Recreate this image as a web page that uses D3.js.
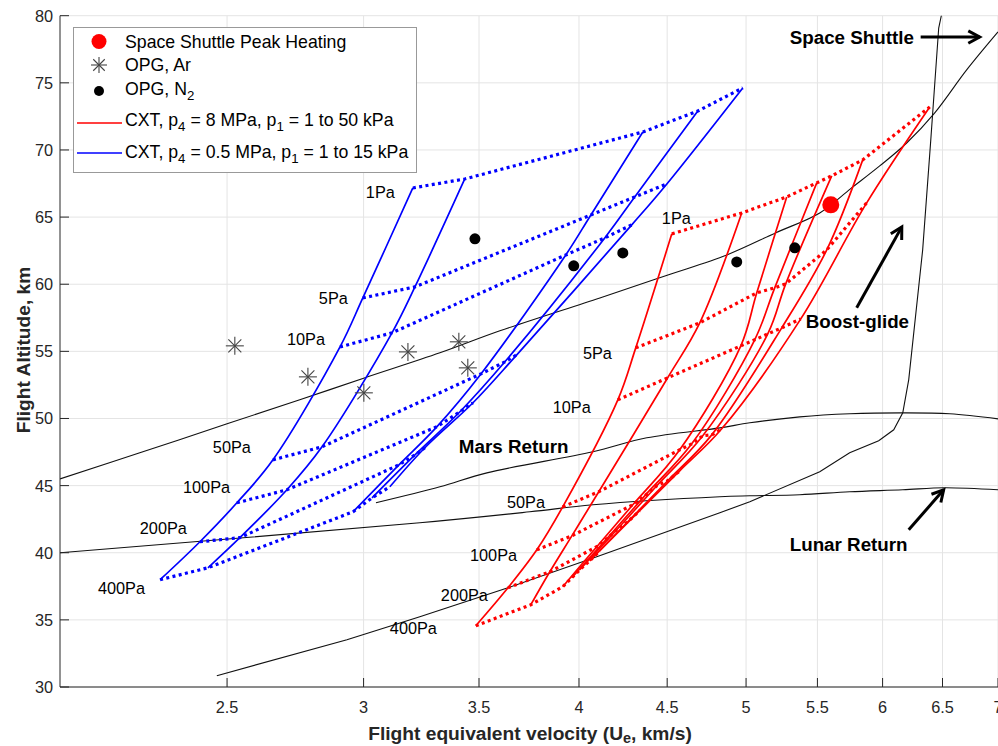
<!DOCTYPE html>
<html>
<head>
<meta charset="utf-8">
<script src="https://cdn.jsdelivr.net/npm/d3@7"></script>
<style>
body { margin: 0; background: #fff; }
text { font-family: "Liberation Sans", Arial, Helvetica, sans-serif; fill: #262626; }
</style>
</head>
<body>
<script>
// ---- data (velocity km/s, altitude km) ----
var vTicks = [2.5, 3, 3.5, 4, 4.5, 5, 5.5, 6, 6.5, 7];
var altTicks = [30, 35, 40, 45, 50, 55, 60, 65, 70, 75, 80];
var pressures = ["1Pa", "5Pa", "10Pa", "50Pa", "100Pa", "200Pa", "400Pa"];

// CXT p4 = 0.5 MPa, one row per p1, points at 1..400 Pa
var blueCurves = [
  [[3.204,67.17],[2.997,58.98],[2.907,55.33],[2.658,46.92],[2.533,43.72],[2.411,40.82],[2.286,37.99]],
  [[3.434,67.84],[3.213,59.80],[3.116,56.38],[2.838,47.89],[2.708,44.69],[2.543,41.12],[2.437,38.88]],
  [[4.356,71.34],[4.064,65.16],[3.930,62.18],[3.509,53.32],[3.308,49.38],[3.145,46.55],[2.958,43.05]],
  [[4.688,72.90],[4.309,66.50],[4.140,63.45],[3.623,54.22],[3.412,50.50],[3.213,47.29],[3.034,44.09]],
  [[4.978,74.62],[4.498,67.47],[4.292,64.42],[3.681,54.74],[3.472,51.17],[3.256,47.82],[3.107,44.91]]
];
// CXT p4 = 8 MPa
var redCurves = [
  [[4.528,63.75],[4.315,55.26],[4.213,51.39],[3.914,43.42],[3.781,40.22],[3.638,37.39],[3.485,34.56]],
  [[4.971,65.31],[4.700,57.12],[4.503,53.03],[4.107,44.54],[3.962,41.26],[3.847,38.58],[3.751,36.13]],
  [[5.279,66.50],[5.072,59.36],[4.965,55.41],[4.576,47.67],[4.298,43.57],[4.096,40.45],[3.914,37.47]],
  [[5.495,67.55],[5.195,59.73],[5.058,55.86],[4.650,48.11],[4.367,44.24],[4.151,41.04],[3.962,38.14]],
  [[5.606,68.07],[5.272,60.03],[5.147,56.30],[4.719,48.71],[4.438,44.99],[4.207,41.71],[4.004,38.73]],
  [[5.843,69.26],[5.569,62.56],[5.244,56.75],[4.776,48.78],[4.503,45.36],[4.269,42.31],[4.058,39.40]],
  [[6.390,73.20],[5.874,66.06],[5.379,57.42],[4.840,49.23],[4.576,46.10],[4.338,43.13],[4.113,40.15]]
];
var blueLabelAt = [[3.009,66.87],[2.826,58.98],[2.708,55.93],[2.453,47.89],[2.357,44.91],[2.225,41.86],[2.104,37.39]];
var redLabelAt = [[4.468,64.94],[4.021,54.89],[3.862,50.87],[3.633,43.80],[3.458,39.85],[3.326,36.87],[3.107,34.42]];

var shuttlePeak = [[5.599,65.91]];
var opgAr = [[2.526,55.41],[2.785,53.10],[3.001,51.91],[3.183,54.96],[3.407,55.71],[3.448,53.77]];
var opgN2 = [[3.481,63.38],[3.972,61.37],[4.241,62.33],[4.938,61.66],[5.336,62.71]];

var shuttleTraj = [[2.466,30.84],[2.934,33.52],[3.234,35.23],[3.638,37.39],[4.096,39.70],[4.828,42.98],[5.025,43.80],
  [5.517,46.03],[5.742,47.44],[5.969,48.34],[6.090,49.16],[6.164,50.42],[6.213,52.88],[6.330,62.56],[6.399,70.75],[6.467,79.08],[6.502,80.5]];
var boostGlide = [[2.0,45.5],[2.225,47.44],[2.5,49.6],[2.755,51.39],[3.0,53.0],[3.322,54.89],[3.599,56.53],[4.113,58.98],
  [4.5,60.67],[4.873,62.18],[5.2,63.82],[5.517,65.31],[5.75,67.12],[5.977,68.81],[6.196,70.52],[6.433,72.76],[6.713,75.96],[7.0,78.79]];
var marsReturn = [[3.050,43.72],[3.322,44.91],[3.537,45.95],[4.075,47.52],[4.379,48.56],[4.828,49.30],[5.025,49.68],
  [5.372,50.12],[5.742,50.35],[6.164,50.42],[6.563,50.35],[7.0,49.97]];
var lunarReturn = [[2.0,40.00],[3.234,42.23],[3.746,43.05],[4.075,43.57],[4.828,44.17],[5.025,44.24],[5.372,44.32],
  [5.742,44.54],[6.164,44.69],[6.519,44.84],[7.0,44.69]];

var notes = [
  {text: "Space Shuttle", at: [5.300,78.41], from: [6.313,78.41], to: [6.831,78.41]},
  {text: "Boost-glide", at: [5.415,57.20], from: [5.796,58.24], to: [6.156,64.27]},
  {text: "Lunar Return", at: [5.300,40.59], from: [6.213,41.71], to: [6.510,44.69]},
  {text: "Mars Return", at: [3.407,47.89]}
];

// ---- chart ----
var w = 998, h = 746;
var svg = d3.select("body").append("svg")
    .attr("width", w)
    .attr("height", h);

var x = d3.scaleLog().domain([2, 7]).range([60, 998]);
var y = d3.scaleLinear().domain([30, 80]).range([687, 15.7]);

svg.append("clipPath").attr("id", "plot")
  .append("rect").attr("x", 60).attr("y", 15.7).attr("width", 938).attr("height", 671.3);

// grid
svg.append("g").selectAll("line").data(vTicks).join("line")
    .attr("x1", d => x(d)).attr("x2", d => x(d))
    .attr("y1", y(30)).attr("y2", y(80))
    .attr("stroke", "#e4e4e4");
svg.append("g").selectAll("line").data(altTicks).join("line")
    .attr("x1", x(2)).attr("x2", x(7))
    .attr("y1", d => y(d)).attr("y2", d => y(d))
    .attr("stroke", "#e4e4e4");

var plot = svg.append("g").attr("clip-path", "url(#plot)");

var straight = d3.line().x(d => x(d[0])).y(d => y(d[1]));
var smooth = d3.line().x(d => x(d[0])).y(d => y(d[1])).curve(d3.curveCatmullRom.alpha(0.5));

// reference trajectories
[shuttleTraj, boostGlide, marsReturn, lunarReturn].forEach(function(t, i) {
  plot.append("path")
    .attr("d", i == 0 ? straight(t) : smooth(t))
    .attr("fill", "none")
    .attr("stroke", "#111")
    .attr("stroke-width", 1.1);
});

function drawFamily(curves, color) {
  plot.append("g").selectAll("path").data(curves).join("path")
    .attr("d", smooth)
    .attr("fill", "none")
    .attr("stroke", color)
    .attr("stroke-width", 1.7);
  var isobars = pressures.map((p, i) => curves.map(c => c[i]));
  plot.append("g").selectAll("path").data(isobars).join("path")
    .attr("d", straight)
    .attr("fill", "none")
    .attr("stroke", color)
    .attr("stroke-width", 3.2)
    .attr("stroke-dasharray", "3,3.4");
}
drawFamily(blueCurves, "#0000ff");
drawFamily(redCurves, "#ff0000");

function pressureLabels(pos) {
  svg.append("g").selectAll("text").data(pos).join("text")
    .attr("x", d => x(d[0])).attr("y", d => y(d[1]))
    .attr("dominant-baseline", "central")
    .style("font-size", "16.3px")
    .style("fill", "#000")
    .text((d, i) => pressures[i]);
}
pressureLabels(blueLabelAt);
pressureLabels(redLabelAt);

// markers
function asterisk(g, cx, cy, r, color) {
  [[r,0],[0,r],[r*0.72,r*0.72],[r*0.72,-r*0.72]].forEach(function(d) {
    g.append("line")
      .attr("x1", cx - d[0]).attr("y1", cy - d[1])
      .attr("x2", cx + d[0]).attr("y2", cy + d[1])
      .attr("stroke", color).attr("stroke-width", 1.1);
  });
}
var mk = svg.append("g");
opgAr.forEach(d => asterisk(mk, x(d[0]), y(d[1]), 9, "#444"));
mk.selectAll("circle.n2").data(opgN2).join("circle")
    .attr("cx", d => x(d[0])).attr("cy", d => y(d[1])).attr("r", 5.5).attr("fill", "#000");
mk.selectAll("circle.ss").data(shuttlePeak).join("circle")
    .attr("cx", d => x(d[0])).attr("cy", d => y(d[1])).attr("r", 8.5).attr("fill", "#ff0000");

// annotations
notes.forEach(function(n) {
  svg.append("text")
    .attr("x", x(n.at[0])).attr("y", y(n.at[1]))
    .attr("dominant-baseline", "central")
    .style("font-size", "18.8px").style("font-weight", "bold").style("fill", "#000")
    .text(n.text);
  if (!n.from) return;
  var x1 = x(n.from[0]), y1 = y(n.from[1]), x2 = x(n.to[0]), y2 = y(n.to[1]);
  var a = Math.atan2(y2 - y1, x2 - x1), L = 13;
  svg.append("line").attr("x1", x1).attr("y1", y1).attr("x2", x2).attr("y2", y2)
    .attr("stroke", "#000").attr("stroke-width", 3);
  svg.append("path")
    .attr("d", "M" + (x2 - L*Math.cos(a - 0.5)) + "," + (y2 - L*Math.sin(a - 0.5)) +
               "L" + x2 + "," + y2 +
               "L" + (x2 - L*Math.cos(a + 0.5)) + "," + (y2 - L*Math.sin(a + 0.5)))
    .attr("fill", "none").attr("stroke", "#000").attr("stroke-width", 3);
});

// axes
var axisColor = "#262626";
svg.append("line").attr("x1", 60).attr("x2", 998).attr("y1", 687).attr("y2", 687).attr("stroke", axisColor);
svg.append("line").attr("x1", 60).attr("x2", 60).attr("y1", 15.7).attr("y2", 687).attr("stroke", axisColor);
svg.append("g").selectAll("line").data(vTicks).join("line")
    .attr("x1", d => x(d)).attr("x2", d => x(d)).attr("y1", 687).attr("y2", 678).attr("stroke", axisColor);
svg.append("g").selectAll("line").data(altTicks).join("line")
    .attr("x1", 60).attr("x2", 69).attr("y1", d => y(d)).attr("y2", d => y(d)).attr("stroke", axisColor);
svg.append("g").selectAll("text").data(vTicks).join("text")
    .attr("x", d => x(d)).attr("y", 707)
    .attr("text-anchor", "middle").attr("dominant-baseline", "central")
    .style("font-size", "16.3px")
    .text(d => d);
svg.append("g").selectAll("text").data(altTicks).join("text")
    .attr("x", 53).attr("y", d => y(d))
    .attr("text-anchor", "end").attr("dominant-baseline", "central")
    .style("font-size", "16.3px")
    .text(d => d);

function rich(t, parts, sub) {
  parts.forEach(function(p, i) {
    var s = t.append("tspan").text(p);
    if (i % 2 == 1) s.attr("dy", sub).style("font-size", "0.75em");
    else if (i > 0) s.attr("dy", -sub);
  });
}
var xl = svg.append("text").attr("x", 530).attr("y", 733)
    .attr("text-anchor", "middle").attr("dominant-baseline", "central")
    .style("font-size", "19.2px").style("font-weight", "bold");
rich(xl, ["Flight equivalent velocity (U", "e", ", km/s)"], 5);
svg.append("text")
    .attr("transform", "translate(23,350)rotate(-90)")
    .attr("text-anchor", "middle").attr("dominant-baseline", "central")
    .style("font-size", "19.2px").style("font-weight", "bold")
    .text("Flight Altitude, km");

// legend
var lg = svg.append("g");
lg.append("rect").attr("x", 73.5).attr("y", 27.5).attr("width", 343).attr("height", 145)
    .attr("fill", "#fff").attr("stroke", "#999");
var rows = [41.5, 65, 89, 120, 152];
lg.append("circle").attr("cx", 99).attr("cy", rows[0]).attr("r", 7.5).attr("fill", "#ff0000");
asterisk(lg, 99, rows[1], 8, "#444");
lg.append("circle").attr("cx", 99).attr("cy", rows[2] + 2).attr("r", 5).attr("fill", "#000");
lg.append("line").attr("x1", 77).attr("x2", 122).attr("y1", rows[3] + 3).attr("y2", rows[3] + 3)
    .attr("stroke", "#ff0000").attr("stroke-width", 1.7);
lg.append("line").attr("x1", 77).attr("x2", 122).attr("y1", rows[4] + 1).attr("y2", rows[4] + 1)
    .attr("stroke", "#0000ff").attr("stroke-width", 1.7);
var legendText = [
  ["Space Shuttle Peak Heating"],
  ["OPG, Ar"],
  ["OPG, N", "2", ""],
  ["CXT, p", "4", " = 8 MPa, p", "1", " = 1 to 50 kPa"],
  ["CXT, p", "4", " = 0.5 MPa, p", "1", " = 1 to 15 kPa"]
];
legendText.forEach(function(parts, i) {
  var t = lg.append("text").attr("x", 125).attr("y", rows[i])
      .attr("dominant-baseline", "central")
      .style("font-size", "17.7px").style("fill", "#000");
  rich(t, parts, 6);
});
</script>
</body>
</html>
